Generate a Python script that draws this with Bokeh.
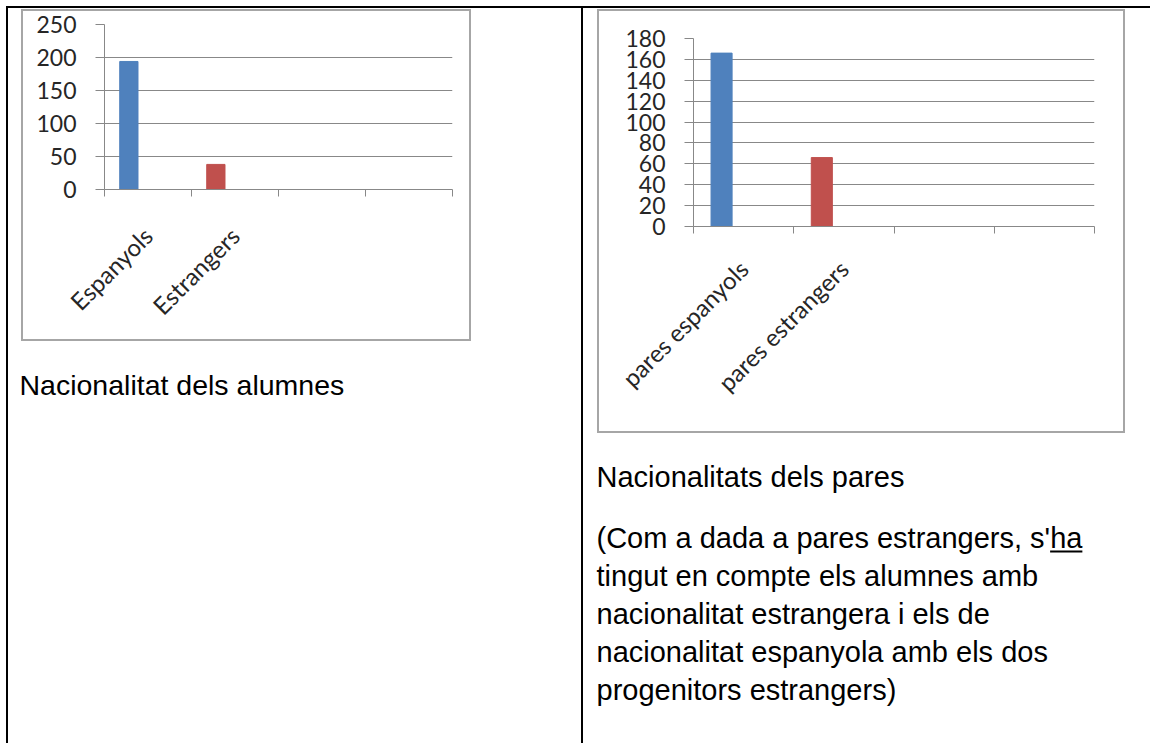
import math
from bokeh.plotting import figure
from bokeh.models import (ColumnDataSource, Range1d, LinearAxis,
                          FixedTicker, Grid, Spacer)
from bokeh.layouts import column, row
from bokeh.transform import dodge
from bokeh.core.properties import value
from bokeh.embed import file_html
from bokeh.resources import INLINE

# ---------------- data ----------------
alumnes_categories = ["Espanyols", "Estrangers"]
alumnes_values = [194, 38]
alumnes_y_ticks = [0, 50, 100, 150, 200, 250]

pares_categories = ["pares espanyols", "pares estrangers"]
pares_values = [166, 66]
pares_y_ticks = [0, 20, 40, 60, 80, 100, 120, 140, 160, 180]

bar_colors = ["#4F81BD", "#C0504D"]
n_slots = 4  # category slots on the x axis (two left empty)

caption_alumnes = "Nacionalitat dels alumnes"
caption_pares = "Nacionalitats dels pares"
note_lines = [
    "(Com a dada a pares estrangers, s'ha",
    "tingut en compte els alumnes amb",
    "nacionalitat estrangera i els de",
    "nacionalitat espanyola amb els dos",
    "progenitors estrangers)",
]

GRID = "#888888"
FRAME = "#a6a6a6"
LABEL = "#262626"
CHART_FONT = "Lato"
TEXT_FONT = "Liberation Sans"


def bar(w, h, color):
    return Spacer(width=w, height=h, styles={"background-color": color})


def gap(w, h):
    return Spacer(width=w, height=h)


def make_chart(cats, vals, yticks, w, h, ml, mr, mt, mb, y_stand, x_stand):
    p = figure(width=w, height=h, x_range=Range1d(0, n_slots),
               y_range=Range1d(0, yticks[-1]),
               x_axis_type=None, y_axis_type=None, toolbar_location=None,
               output_backend="svg", min_border_left=ml, min_border_right=mr,
               min_border_top=mt, min_border_bottom=mb, title=None)
    p.outline_line_color = None
    p.background_fill_color = "white"
    p.border_fill_color = "white"

    yt = FixedTicker(ticks=yticks)
    yax = LinearAxis(ticker=yt)
    yax.axis_line_color = GRID
    yax.major_tick_line_color = GRID
    yax.major_tick_out = 9
    yax.major_tick_in = 0
    yax.minor_tick_line_color = None
    yax.major_label_text_font = CHART_FONT
    yax.major_label_text_font_size = "23px"
    yax.major_label_text_color = LABEL
    yax.major_label_standoff = y_stand
    p.add_layout(yax, "left")
    p.add_layout(Grid(dimension=1, ticker=yt, grid_line_color=GRID, grid_line_width=1))

    # category slots: labels at slot centres, tick marks at slot boundaries
    centers = [i + 0.5 for i in range(n_slots)]
    bounds = [float(i) for i in range(n_slots + 1)]
    xax = LinearAxis(ticker=FixedTicker(ticks=centers, minor_ticks=bounds))
    xax.major_label_overrides = {c: (cats[i] if i < len(cats) else " ")
                                 for i, c in enumerate(centers)}
    xax.axis_line_color = GRID
    xax.major_tick_line_color = None
    xax.major_tick_out = 0
    xax.major_tick_in = 0
    xax.minor_tick_line_color = GRID
    xax.minor_tick_out = 7
    xax.minor_tick_in = 0
    xax.major_label_orientation = math.pi / 4
    xax.major_label_text_font = CHART_FONT
    xax.major_label_text_font_size = "24px"
    xax.major_label_text_color = LABEL
    xax.major_label_standoff = x_stand
    p.add_layout(xax, "below")

    src = ColumnDataSource(dict(slot=list(range(len(cats))), top=vals,
                                color=bar_colors[:len(cats)]))
    # first of three clustered series: offset left of the slot centre
    p.vbar(x=dodge("slot", 0.5 - 0.22), top="top", width=0.21,
           fill_color="color", line_color="color", source=src)
    return p


def framed(p, w, h):
    # light grey picture frame (2px) around the chart picture
    return column(bar(w + 4, 2, FRAME),
                  row(bar(2, h, FRAME), p, bar(2, h, FRAME)),
                  bar(w + 4, 2, FRAME))


def make_text_panel(w, h, xs, ys, texts, size, underline=None):
    p = figure(width=w, height=h, x_range=Range1d(0, w), y_range=Range1d(h, 0),
               x_axis_type=None, y_axis_type=None, toolbar_location=None,
               output_backend="svg", min_border=0, title=None)
    p.outline_line_color = None
    p.grid.visible = False
    p.background_fill_color = "white"
    p.border_fill_color = "white"
    p.text(x=xs, y=ys, text=texts, text_font=value(TEXT_FONT),
           text_font_size="%spx" % size, text_baseline="alphabetic",
           text_align="left", text_color="#000000")
    if underline is not None:
        x0, x1, yy = underline
        p.segment(x0=[x0], y0=[yy], x1=[x1], y1=[yy], line_color="#000000", line_width=2)
    return column(p)


BASE_SHIFT = 11  # rendered baseline sits this far below the text anchor

# ---- left cell (x 8..581) ----
chart1 = make_chart(alumnes_categories, alumnes_values, alumnes_y_ticks,
                    w=446, h=328, ml=81, mr=17, mt=13, mb=150,
                    y_stand=19, x_stand=35)
cap1 = make_text_panel(573, 394, [11], [395 - 341 - BASE_SHIFT], [caption_alumnes], 28.5)
left_cell = column(gap(573, 1), row(gap(13, 332), framed(chart1, 446, 328)), cap1)

# ---- right cell (x 583..1150) ----
chart2 = make_chart(pares_categories, pares_values, pares_y_ticks,
                    w=524, h=420, ml=94, mr=29, mt=27, mb=205,
                    y_stand=19, x_stand=31)
px = 13
fs2 = 29
base2 = [487 - 433] + [548 - 433 + 38 * i for i in range(len(note_lines))]
ys2 = [b - BASE_SHIFT for b in base2]
# underline under "ha" of "s'ha" (Arial metrics: prefix 15.642 em, "ha" 1.112 em)
ul = (px + 15.642 * fs2, px + 16.754 * fs2, base2[1] + 3)
cap2 = make_text_panel(567, 310, [px] * (1 + len(note_lines)), ys2,
                       [caption_pares] + note_lines, fs2, underline=ul)
right_cell = column(gap(567, 1), row(gap(14, 424), framed(chart2, 524, 420)), cap2)

# ---- table lines ----
H = 735
root = column(
    gap(1150, 6),
    row(gap(6, 2), bar(1144, 2, "#000000")),
    row(gap(6, H), bar(2, H, "#000000"), left_cell, bar(2, H, "#000000"), right_cell),
)

open("out.html", "w").write(file_html(root, INLINE))
